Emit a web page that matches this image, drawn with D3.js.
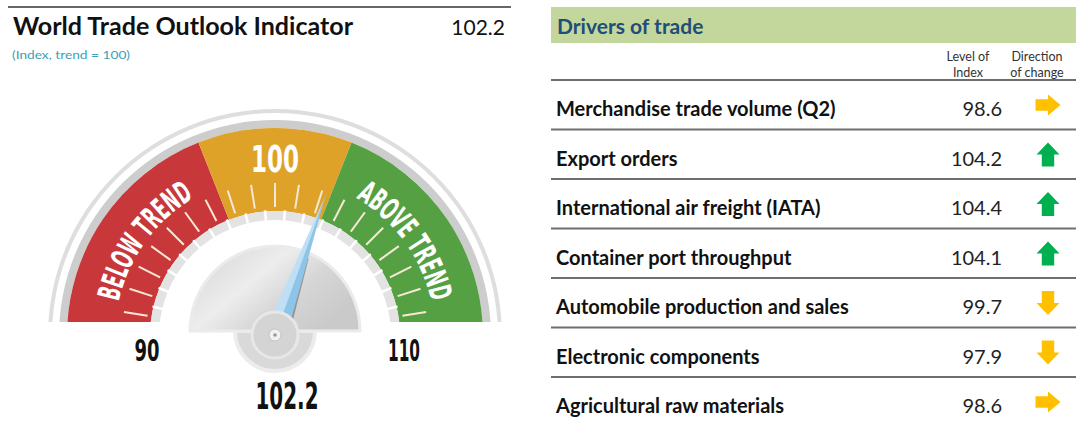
<!DOCTYPE html>
<html>
<head>
<meta charset="utf-8">
<script src="https://cdn.jsdelivr.net/npm/d3@7"></script>
<style>
  body { margin: 0; background: #fff; }
  svg { display: block; }
  .cond { font-family: "Liberation Sans Narrow", "DejaVu Sans", sans-serif; font-stretch: condensed; font-weight: bold; }
  .ui { font-family: Lato, "Open Sans", sans-serif; }
</style>
</head>
<body>
<svg id="chart" width="1076" height="423"></svg>
<script>
// gauge data
const gaugeValue = 102.2;
const gaugeDomain = [90, 110];
const bandStops = [90, 97.6, 102.4, 110];
const bandColors = ["#c8373a", "#dea229", "#56a044"];
const sideLabels = [
  { text: "BELOW TREND", at: 94 },
  { text: "ABOVE TREND", at: 106 }
];

// drivers table data
const drivers = [
  "Merchandise trade volume (Q2)",
  "Export orders",
  "International air freight (IATA)",
  "Container port throughput",
  "Automobile production and sales",
  "Electronic components",
  "Agricultural raw materials"
];
const levels = [98.6, 104.2, 104.4, 104.1, 99.7, 97.9, 98.6];
const directions = ["right", "up", "up", "up", "down", "down", "right"];

const svg = d3.select('#chart');
const cx = 275, cy = 336;
const angle = d3.scaleLinear().domain(gaugeDomain).range([-Math.PI / 2, Math.PI / 2]);
const polar = (v, r) => [cx + r * Math.sin(angle(v)), cy - r * Math.cos(angle(v))];

const defs = svg.append('defs');
defs.append('clipPath').attr('id', 'gaugeClip')
  .append('rect').attr('x', 0).attr('y', 0).attr('width', 560).attr('height', 322);

const dialGrad = defs.append('linearGradient').attr('id', 'dialGrad')
  .attr('x1', 0).attr('y1', 0).attr('x2', 1).attr('y2', 0.6);
dialGrad.append('stop').attr('offset', 0).attr('stop-color', '#d3d3d3');
dialGrad.append('stop').attr('offset', 0.45).attr('stop-color', '#ededed');
dialGrad.append('stop').attr('offset', 0.7).attr('stop-color', '#d6d6d6');
dialGrad.append('stop').attr('offset', 1).attr('stop-color', '#cacaca');

// ---------- left header ----------
svg.append('line')
  .attr('x1', 8).attr('x2', 511).attr('y1', 7).attr('y2', 7)
  .attr('stroke', '#666').attr('stroke-width', 2);

svg.append('text').attr('class', 'ui')
  .attr('x', 13).attr('y', 35)
  .attr('font-size', 24).attr('font-weight', 'bold').attr('fill', '#111')
  .attr('textLength', 340).attr('lengthAdjust', 'spacingAndGlyphs')
  .text('World Trade Outlook Indicator');

svg.append('text').attr('class', 'ui')
  .attr('x', 505).attr('y', 35).attr('text-anchor', 'end')
  .attr('font-size', 21).attr('fill', '#111')
  .text(d3.format('.1f')(gaugeValue));

svg.append('text').attr('class', 'ui')
  .attr('x', 12).attr('y', 59)
  .attr('font-size', 12).attr('fill', '#3a9fb8')
  .attr('textLength', 118).attr('lengthAdjust', 'spacingAndGlyphs')
  .text('(Index, trend = 100)');

// ---------- gauge ----------
const gauge = svg.append('g').attr('clip-path', 'url(#gaugeClip)');
const half = { s: gaugeDomain[0], e: gaugeDomain[1] };
const ring = (r0, r1) => d3.arc().innerRadius(r0).outerRadius(r1)
  .startAngle(d => angle(d.s)).endAngle(d => angle(d.e));

gauge.append('path').datum(half).attr('d', ring(223, 227))
  .attr('transform', `translate(${cx},${cy})`).attr('fill', '#dedede');
gauge.append('path').datum(half).attr('d', ring(208, 216))
  .attr('transform', `translate(${cx},${cy})`).attr('fill', '#cdcdcd');

const bands = d3.pairs(bandStops).map((p, i) => ({ s: p[0], e: p[1], color: bandColors[i] }));
gauge.selectAll('path.band').data(bands).join('path')
  .attr('class', 'band')
  .attr('transform', `translate(${cx},${cy})`)
  .attr('d', ring(125, 208))
  .attr('fill', d => d.color);

// inner light ring with white gaps
gauge.append('path').datum(half).attr('d', ring(116, 125))
  .attr('transform', `translate(${cx},${cy})`).attr('fill', '#e3e3e3');

const tickVals = angle.ticks(20).filter(v => v > gaugeDomain[0] && v < gaugeDomain[1]);
gauge.selectAll('line.gap').data(tickVals.map(v => v + 0.5)).join('line')
  .attr('class', 'gap')
  .attr('x1', d => polar(d, 115)[0]).attr('y1', d => polar(d, 115)[1])
  .attr('x2', d => polar(d, 126)[0]).attr('y2', d => polar(d, 126)[1])
  .attr('stroke', '#fff').attr('stroke-width', 2.5);

gauge.selectAll('line.tick').data(tickVals).join('line')
  .attr('class', 'tick')
  .attr('x1', d => polar(d, 129)[0]).attr('y1', d => polar(d, 129)[1])
  .attr('x2', d => polar(d, 153)[0]).attr('y2', d => polar(d, 153)[1])
  .attr('stroke', '#f7e8d6').attr('stroke-width', 2);

// curved band labels
const rText = 160;
defs.append('path').attr('id', 'labelArc')
  .attr('d', `M${cx - rText},${cy} A${rText},${rText} 0 0 1 ${cx + rText},${cy}`);

gauge.selectAll('text.side').data(sideLabels).join('text')
  .attr('class', 'side cond')
  .attr('font-size', 31).attr('fill', '#fff')
  .append('textPath')
  .attr('href', '#labelArc')
  .attr('startOffset', d => `${(angle(d.at) + Math.PI / 2) / Math.PI * 100}%`)
  .attr('text-anchor', 'middle')
  .attr('textLength', 132).attr('lengthAdjust', 'spacingAndGlyphs')
  .text(d => d.text);

svg.append('text').attr('class', 'cond')
  .attr('x', polar(100, 164)[0]).attr('y', polar(100, 164)[1])
  .attr('text-anchor', 'middle').attr('font-size', 37).attr('fill', '#fff')
  .attr('textLength', 48).attr('lengthAdjust', 'spacingAndGlyphs')
  .text(100);

// end labels
svg.selectAll('text.endLbl').data([{ v: 90, x: 147, w: 25 }, { v: 110, x: 404, w: 32 }]).join('text')
  .attr('class', 'endLbl cond')
  .attr('x', d => d.x).attr('y', 361)
  .attr('text-anchor', 'middle').attr('font-size', 30).attr('fill', '#111')
  .attr('textLength', d => d.w).attr('lengthAdjust', 'spacingAndGlyphs')
  .text(d => d.v);

// cup under the dial
svg.append('path')
  .attr('transform', `translate(${cx},331)`)
  .attr('d', d3.arc().innerRadius(0).outerRadius(40).startAngle(Math.PI / 2).endAngle(Math.PI * 1.5)())
  .attr('fill', '#d9d9d9').attr('stroke', '#ececec').attr('stroke-width', 4);

// dial
svg.append('path')
  .attr('transform', `translate(${cx},331)`)
  .attr('d', d3.arc().innerRadius(0).outerRadius(85).startAngle(-Math.PI / 2).endAngle(Math.PI / 2)())
  .attr('fill', 'url(#dialGrad)').attr('stroke', '#ebebeb').attr('stroke-width', 3);

// needle
const a = angle(gaugeValue);
const tip = polar(gaugeValue, 150);
const nx = Math.cos(a), ny = Math.sin(a);
const w = 11;
const baseL = [cx - nx * w, cy - ny * w];
const baseR = [cx + nx * w, cy + ny * w];

svg.append('line')
  .attr('x1', cx + nx * 10 + Math.sin(a) * 20).attr('y1', cy + ny * 10 - Math.cos(a) * 20)
  .attr('x2', cx + nx * 4 + Math.sin(a) * 84).attr('y2', cy + ny * 4 - Math.cos(a) * 84)
  .attr('stroke', '#7a7a7a').attr('stroke-width', 3).attr('opacity', 0.7);

svg.append('path')
  .attr('d', d3.line()([baseL, tip, [cx, cy]]) + 'Z')
  .attr('fill', '#bfe0f4');
svg.append('path')
  .attr('d', d3.line()([[cx, cy], tip, baseR]) + 'Z')
  .attr('fill', '#8cc5e8');

// hub
svg.append('circle').attr('cx', cx).attr('cy', 335).attr('r', 23)
  .attr('fill', '#d4d4d4').attr('stroke', '#e7e7e7').attr('stroke-width', 3);
svg.append('circle').attr('cx', cx).attr('cy', 335).attr('r', 6)
  .attr('fill', '#f1f1f1').attr('stroke', '#c4c4c4').attr('stroke-width', 1);
svg.append('circle').attr('cx', cx).attr('cy', 335).attr('r', 1.8).attr('fill', '#9a9a9a');

// value under the dial
svg.append('text').attr('class', 'cond')
  .attr('x', 287).attr('y', 409)
  .attr('text-anchor', 'middle').attr('font-size', 38).attr('fill', '#111')
  .attr('textLength', 63).attr('lengthAdjust', 'spacingAndGlyphs')
  .text(d3.format('.1f')(gaugeValue));

// ---------- drivers table ----------
const tx0 = 551, tx1 = 1076;
svg.append('rect').attr('x', tx0).attr('y', 7).attr('width', tx1 - tx0).attr('height', 36)
  .attr('fill', '#c3d79c');
svg.append('text').attr('class', 'ui')
  .attr('x', 557).attr('y', 34)
  .attr('font-size', 21).attr('font-weight', 'bold').attr('fill', '#1f4e79')
  .text('Drivers of trade');

const colX = { level: 968, dir: 1037 };
const headers = [
  { x: colX.level, lines: ['Level of', 'Index'] },
  { x: colX.dir, lines: ['Direction', 'of change'] }
];
headers.forEach(h => {
  svg.append('text').attr('class', 'ui')
    .attr('x', h.x).attr('text-anchor', 'middle')
    .attr('font-size', 12.5).attr('fill', '#333')
    .selectAll('tspan').data(h.lines).join('tspan')
    .attr('x', h.x).attr('y', (d, i) => 61 + i * 16)
    .text(d => d);
});

const rowY = d3.scaleBand().domain(drivers).range([80, 80 + drivers.length * 49.5]);
const rows = drivers.map((name, i) => ({ name, level: levels[i], dir: directions[i] }));

svg.selectAll('line.rowLine').data(rows).join('line')
  .attr('class', 'rowLine')
  .attr('x1', tx0).attr('x2', tx1)
  .attr('y1', d => rowY(d.name)).attr('y2', d => rowY(d.name))
  .attr('stroke', '#6e6e6e').attr('stroke-width', 2);

svg.selectAll('text.rowName').data(rows).join('text')
  .attr('class', 'rowName ui')
  .attr('x', 556).attr('y', d => rowY(d.name) + 36)
  .attr('font-size', 20).attr('font-weight', 'bold').attr('fill', '#111')
  .text(d => d.name);

svg.selectAll('text.rowVal').data(rows).join('text')
  .attr('class', 'rowVal ui')
  .attr('x', 1002).attr('y', d => rowY(d.name) + 36)
  .attr('text-anchor', 'end').attr('font-size', 20).attr('fill', '#222')
  .text(d => d3.format('.1f')(d.level));

// arrow drawn pointing right, then rotated
function arrowPath(L, W) {
  const hl = L * 0.5, sw = W * 0.27;
  return d3.line()([
    [-L / 2, -sw], [L / 2 - hl, -sw], [L / 2 - hl, -W / 2], [L / 2, 0],
    [L / 2 - hl, W / 2], [L / 2 - hl, sw], [-L / 2, sw]
  ]) + 'Z';
}
const arrowStyle = {
  right: { rot: 0, L: 25, W: 21, color: '#ffc000' },
  up: { rot: -90, L: 24, W: 23, color: '#00b050' },
  down: { rot: 90, L: 24, W: 23, color: '#ffc000' }
};

svg.selectAll('path.arrow').data(rows).join('path')
  .attr('class', 'arrow')
  .attr('transform', d => `translate(1048,${rowY(d.name) + 25}) rotate(${arrowStyle[d.dir].rot})`)
  .attr('d', d => arrowPath(arrowStyle[d.dir].L, arrowStyle[d.dir].W))
  .attr('fill', d => arrowStyle[d.dir].color);
</script>
</body>
</html>
